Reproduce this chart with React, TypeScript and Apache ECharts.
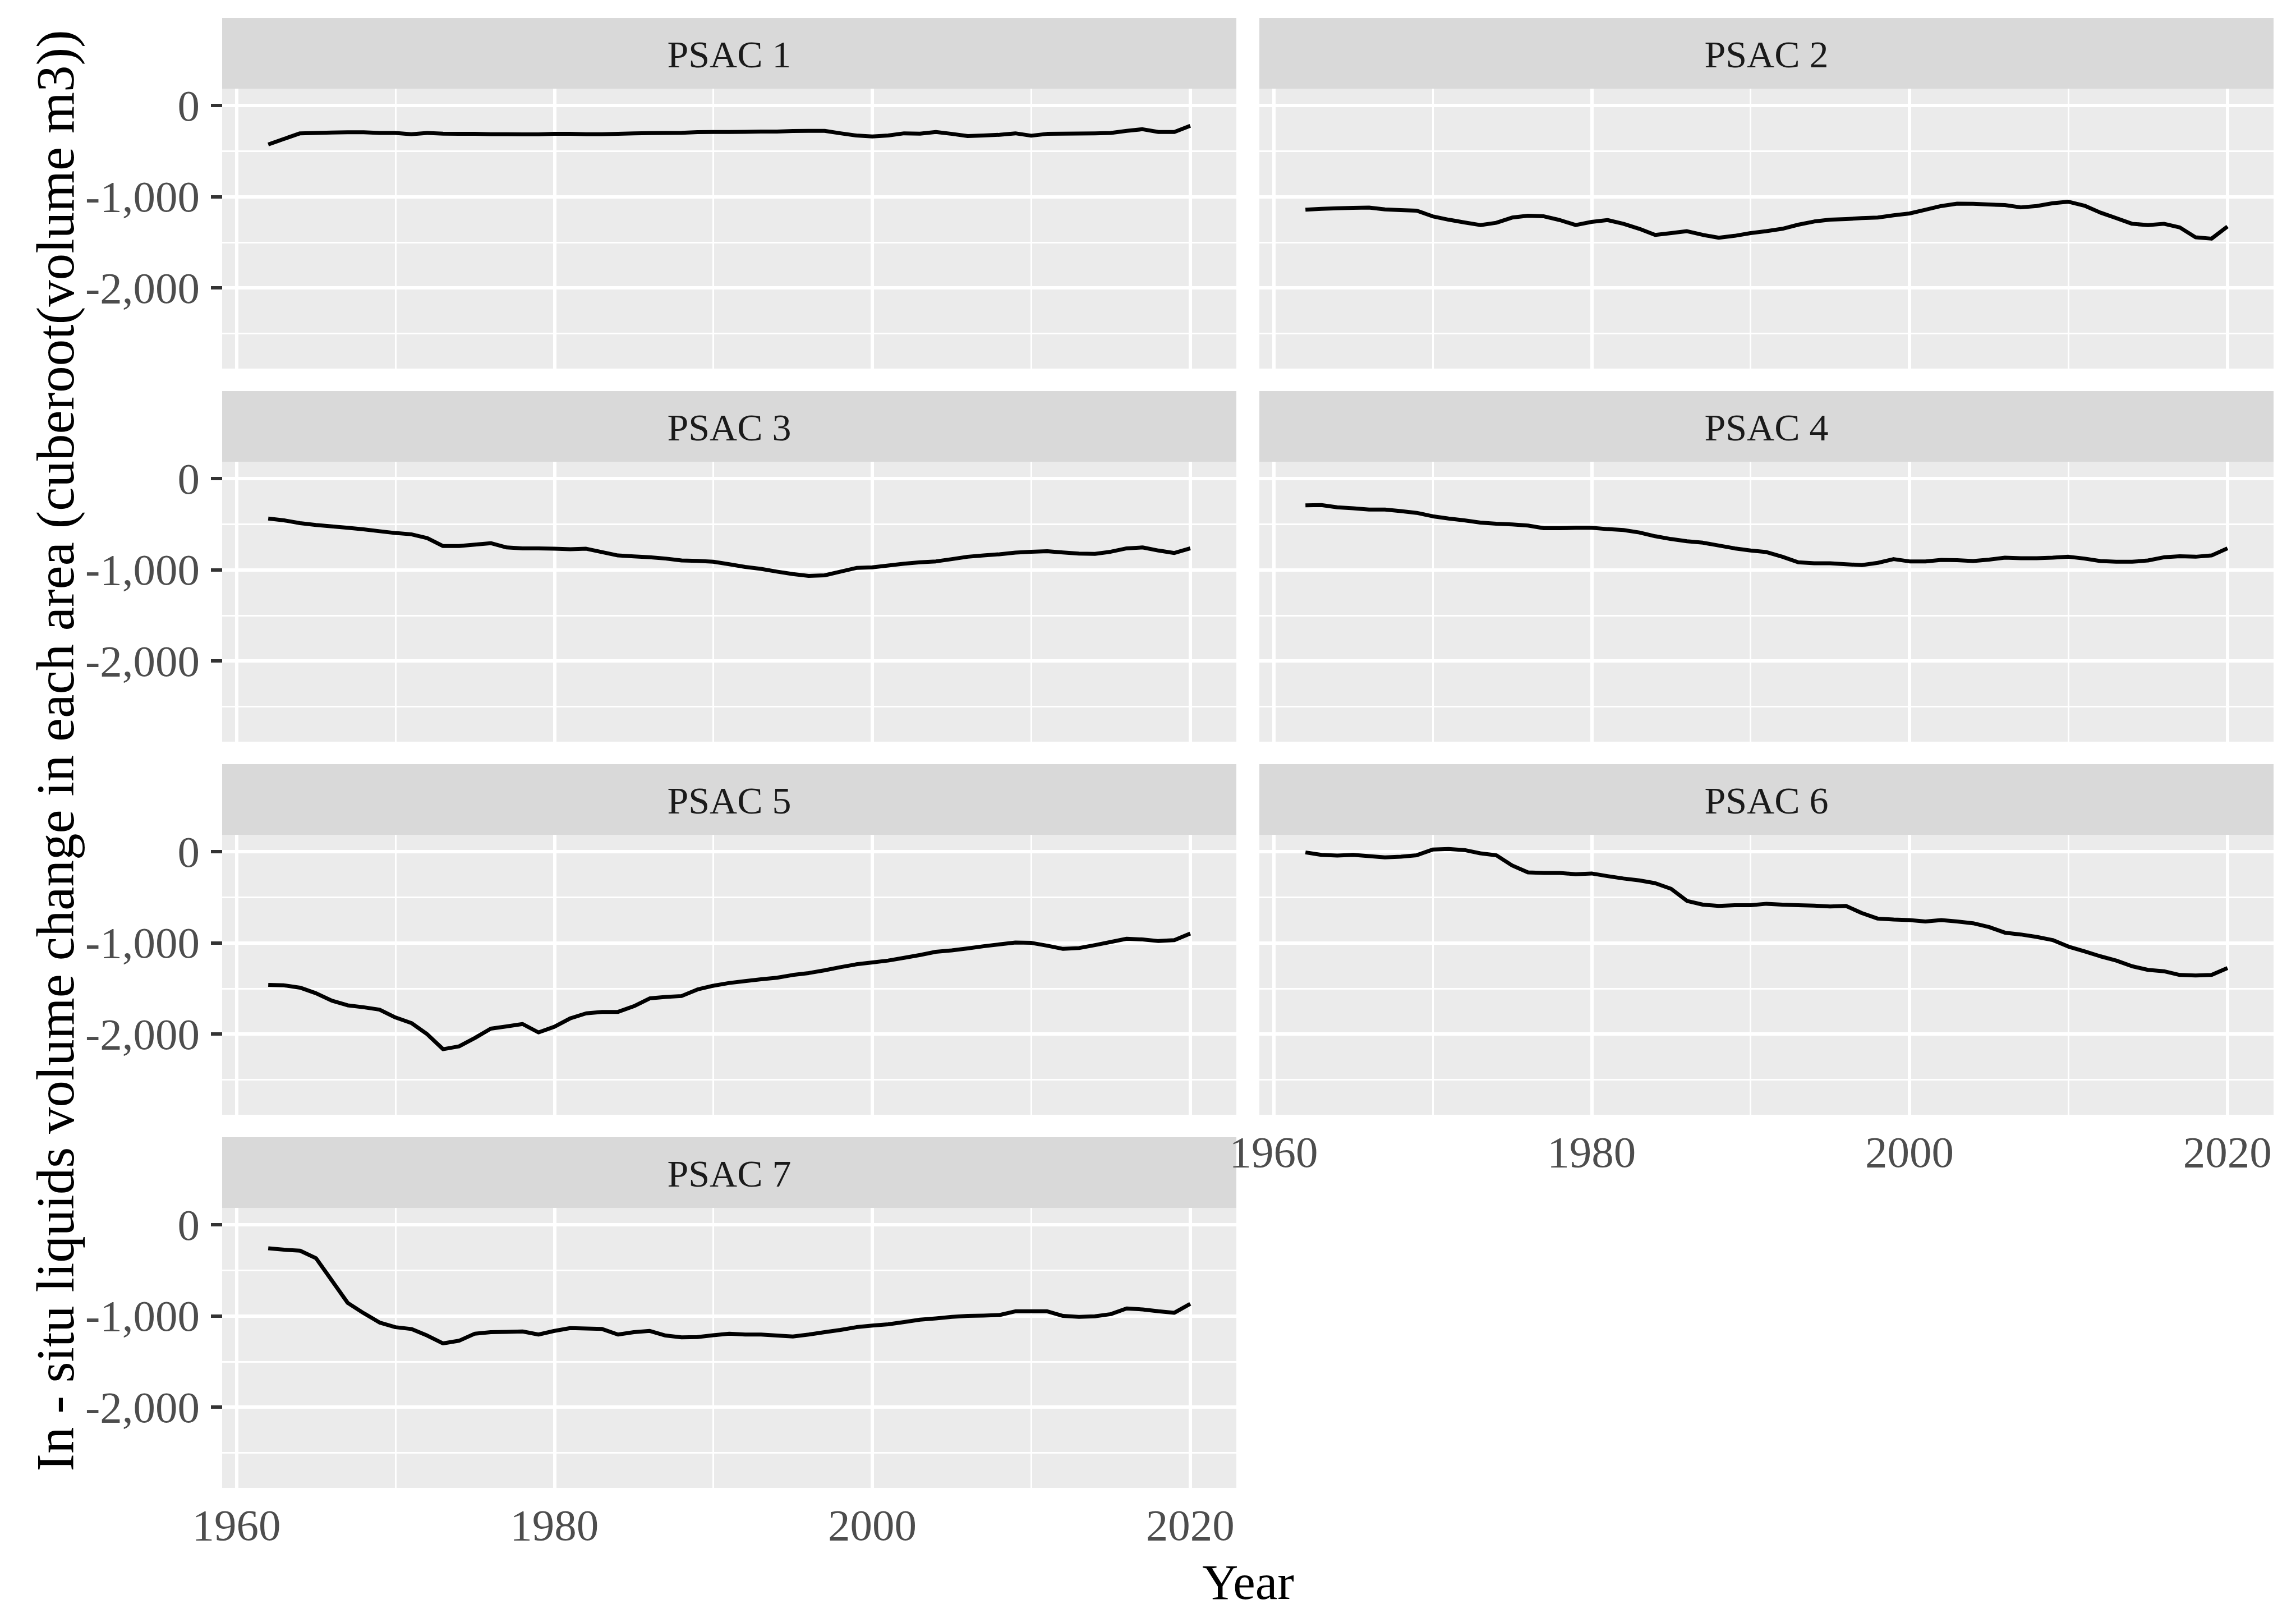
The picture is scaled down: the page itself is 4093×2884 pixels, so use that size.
import React, { useEffect, useRef } from "react";
import * as echarts from "echarts";

// ---------------- DATA ----------------
const years = [
  1962, 1963, 1964, 1965, 1966, 1967, 1968, 1969, 1970, 1971,
  1972, 1973, 1974, 1975, 1976, 1977, 1978, 1979, 1980, 1981,
  1982, 1983, 1984, 1985, 1986, 1987, 1988, 1989, 1990, 1991,
  1992, 1993, 1994, 1995, 1996, 1997, 1998, 1999, 2000, 2001,
  2002, 2003, 2004, 2005, 2006, 2007, 2008, 2009, 2010, 2011,
  2012, 2013, 2014, 2015, 2016, 2017, 2018, 2019, 2020,
];

const psac1 = [
  -427, -366, -305, -301, -297, -294, -294, -301, -301, -315,
  -301, -309, -311, -311, -315, -315, -317, -317, -311, -311,
  -315, -315, -311, -305, -303, -301, -299, -292, -290, -290,
  -288, -286, -286, -280, -278, -278, -305, -329, -339, -329,
  -305, -309, -290, -311, -335, -329, -321, -305, -331, -311,
  -309, -307, -305, -301, -278, -260, -290, -290, -223,
];

const psac2 = [
  -1143, -1133, -1127, -1123, -1119, -1139, -1147, -1153, -1215, -1252,
  -1282, -1311, -1286, -1229, -1209, -1215, -1256, -1311, -1276, -1256,
  -1297, -1352, -1419, -1399, -1378, -1419, -1450, -1429, -1399, -1378,
  -1352, -1307, -1272, -1252, -1245, -1235, -1229, -1204, -1184, -1143,
  -1102, -1076, -1078, -1086, -1092, -1117, -1102, -1072, -1055, -1098,
  -1174, -1235, -1297, -1311, -1297, -1337, -1446, -1460, -1327,
];

const psac3 = [
  -438, -458, -489, -509, -524, -540, -556, -577, -597, -611,
  -652, -740, -740, -724, -708, -755, -765, -765, -769, -775,
  -769, -806, -843, -853, -863, -877, -898, -902, -912, -939,
  -969, -990, -1020, -1047, -1067, -1061, -1020, -980, -973, -953,
  -933, -918, -908, -883, -857, -843, -830, -812, -802, -796,
  -810, -822, -826, -802, -765, -755, -789, -816, -765,
];

const psac4 = [
  -294, -290, -315, -325, -339, -339, -356, -376, -413, -438,
  -458, -483, -495, -503, -515, -544, -544, -540, -540, -554,
  -564, -591, -632, -663, -687, -703, -734, -765, -789, -806,
  -857, -918, -928, -928, -939, -949, -924, -883, -908, -908,
  -892, -894, -904, -888, -867, -873, -873, -867, -857, -877,
  -904, -912, -912, -898, -863, -851, -857, -843, -765,
];

const psac5 = [
  -1460, -1466, -1491, -1552, -1634, -1685, -1706, -1732, -1818, -1879,
  -2002, -2166, -2135, -2043, -1941, -1916, -1890, -1982, -1920, -1828,
  -1773, -1757, -1757, -1695, -1609, -1593, -1583, -1511, -1470, -1440,
  -1419, -1399, -1382, -1352, -1331, -1301, -1266, -1235, -1215, -1194,
  -1164, -1133, -1098, -1082, -1061, -1037, -1016, -996, -1000, -1031,
  -1066, -1057, -1025, -990, -955, -963, -980, -970, -898,
];

const psac6 = [
  -8, -35, -43, -35, -49, -63, -55, -39, 23, 29,
  18, -18, -39, -151, -227, -233, -233, -247, -239, -268,
  -294, -315, -346, -407, -540, -581, -595, -587, -587, -571,
  -581, -587, -591, -601, -595, -673, -734, -744, -750, -765,
  -750, -765, -785, -826, -888, -908, -935, -969, -1041, -1092,
  -1147, -1194, -1256, -1296, -1311, -1352, -1358, -1352, -1276,
];

const psac7 = [
  -258, -274, -284, -366, -611, -857, -969, -1072, -1123, -1143,
  -1215, -1301, -1272, -1194, -1178, -1174, -1170, -1204, -1164, -1133,
  -1137, -1143, -1204, -1178, -1164, -1215, -1235, -1231, -1211, -1194,
  -1204, -1204, -1215, -1225, -1204, -1178, -1153, -1123, -1106, -1092,
  -1067, -1041, -1027, -1010, -1000, -996, -990, -949, -949, -949,
  -1000, -1010, -1004, -980, -918, -928, -949, -965, -867,
];

const panelNames = ["PSAC 1", "PSAC 2", "PSAC 3", "PSAC 4", "PSAC 5", "PSAC 6", "PSAC 7"];
const panelValues = [psac1, psac2, psac3, psac4, psac5, psac6, psac7];

const xMajorTicks = [1960, 1980, 2000, 2020];
const xMinorTicks = [1970, 1990, 2010];
const yMajorTicks = [-2000, -1000, 0];
const yMinorTicks = [-2500, -1500, -500];

const yTitle = "In - situ liquids volume change in each area (cuberoot(volume m3))";
const xTitle = "Year";

// ---------------- LAYOUT ----------------
const W = 4093;
const H = 2884;
const FONT = "'Liberation Serif', serif";
const colLeft = [396, 2245];
const panelW = 1808;
const rowTop = [158, 823, 1488, 2153];
const panelH = 499;
const stripH = 126;

const X_MIN = 1959.1;
const X_MAX = 2022.9;
const Y_MIN = -2885;
const Y_MAX = 185;

function fmtY(v: number): string {
  return Number(v).toLocaleString("en-US");
}

export default function App() {
  const ref = useRef<HTMLDivElement | null>(null);

  useEffect(() => {
    if (!ref.current) return;
    const chart = echarts.init(ref.current, undefined, { renderer: "svg" });

    const grids: any[] = [];
    const xAxes: any[] = [];
    const yAxes: any[] = [];
    const series: any[] = [];
    const graphics: any[] = [];

    panelNames.forEach((name, i) => {
      const row = Math.floor(i / 2);
      const col = i % 2;
      const left = colLeft[col];
      const top = rowTop[row];
      const showX = i === 5 || i === 6;
      const showY = col === 0;

      grids.push({
        left,
        top,
        width: panelW,
        height: panelH,
        show: true,
        backgroundColor: "#EBEBEB",
        borderWidth: 0,
        containLabel: false,
      });

      xAxes.push({
        type: "value",
        gridIndex: i,
        min: X_MIN,
        max: X_MAX,
        axisLine: { show: false },
        splitLine: { show: false },
        axisTick: {
          show: showX,
          customValues: xMajorTicks,
          length: 20,
          lineStyle: { color: "#333333", width: 6 },
        },
        axisLabel: {
          show: showX,
          customValues: xMajorTicks,
          margin: 27,
          fontSize: 79,
          fontFamily: FONT,
          color: "#4D4D4D",
          formatter: (v: number) => String(v),
        },
      });

      yAxes.push({
        type: "value",
        gridIndex: i,
        min: Y_MIN,
        max: Y_MAX,
        axisLine: { show: false },
        splitLine: { show: false },
        axisTick: {
          show: showY,
          customValues: yMajorTicks,
          length: 20,
          lineStyle: { color: "#333333", width: 6 },
        },
        axisLabel: {
          show: showY,
          customValues: yMajorTicks,
          margin: 40,
          fontSize: 79,
          fontFamily: FONT,
          color: "#4D4D4D",
          formatter: (v: number) => fmtY(v),
        },
      });

      const gridLines: any[] = [];
      yMinorTicks.forEach((v) =>
        gridLines.push({ yAxis: v, lineStyle: { color: "#FFFFFF", width: 3, type: "solid" } })
      );
      xMinorTicks.forEach((v) =>
        gridLines.push({ xAxis: v, lineStyle: { color: "#FFFFFF", width: 3, type: "solid" } })
      );
      yMajorTicks.forEach((v) =>
        gridLines.push({ yAxis: v, lineStyle: { color: "#FFFFFF", width: 6, type: "solid" } })
      );
      xMajorTicks.forEach((v) =>
        gridLines.push({ xAxis: v, lineStyle: { color: "#FFFFFF", width: 6, type: "solid" } })
      );

      const vals = panelValues[i];
      series.push({
        type: "line",
        name,
        xAxisIndex: i,
        yAxisIndex: i,
        data: years.map((y, k) => [y, vals[k]]),
        showSymbol: false,
        symbol: "none",
        z: 5,
        lineStyle: { color: "#000000", width: 7, join: "round", cap: "butt" },
        emphasis: { disabled: true },
        markLine: {
          silent: true,
          z: 1,
          symbol: ["none", "none"],
          label: { show: false },
          lineStyle: { type: "solid", color: "#FFFFFF" },
          emphasis: { disabled: true },
          animation: false,
          data: gridLines,
        },
      });

      graphics.push({
        type: "rect",
        shape: { x: left, y: top - stripH, width: panelW, height: stripH },
        style: { fill: "#D9D9D9" },
        silent: true,
      });
      graphics.push({
        type: "text",
        x: left + panelW / 2,
        y: top - stripH / 2 + 2,
        style: {
          text: name,
          fontSize: 68,
          fontFamily: FONT,
          fill: "#1A1A1A",
          align: "center",
          verticalAlign: "middle",
        },
        silent: true,
      });
    });

    graphics.push({
      type: "text",
      x: 99,
      y: 1338,
      rotation: Math.PI / 2,
      style: {
        text: yTitle,
        fontSize: 95,
        fontFamily: FONT,
        fill: "#000000",
        align: "center",
        verticalAlign: "middle",
      },
      silent: true,
    });
    graphics.push({
      type: "text",
      x: 2225,
      y: 2820,
      style: {
        text: xTitle,
        fontSize: 89,
        fontFamily: FONT,
        fill: "#000000",
        align: "center",
        verticalAlign: "middle",
      },
      silent: true,
    });

    chart.setOption({
      animation: false,
      backgroundColor: "#FFFFFF",
      textStyle: { fontFamily: FONT },
      grid: grids,
      xAxis: xAxes,
      yAxis: yAxes,
      series,
      graphic: graphics,
    });

    return () => {
      chart.dispose();
    };
  }, []);

  return (
    <div
      ref={ref}
      style={{ position: "absolute", left: 0, top: 0, width: W, height: H }}
    />
  );
}
